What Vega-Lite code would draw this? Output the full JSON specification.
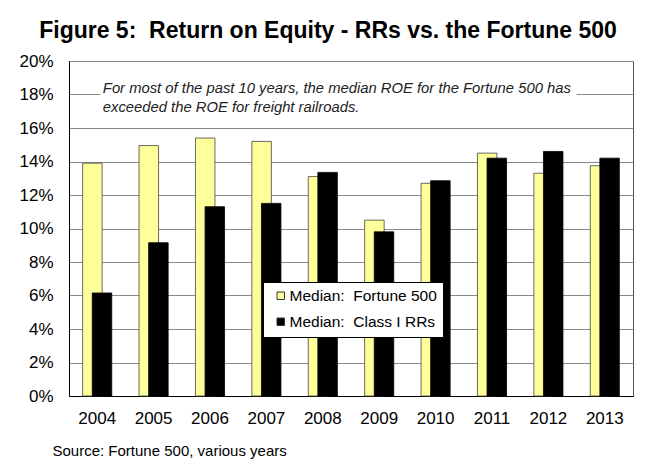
{
  "$schema": "https://vega.github.io/schema/vega-lite/v6.json",
  "width": 564,
  "height": 335,
  "autosize": {"type": "none"},
  "padding": {"left": 69, "top": 61, "right": 13, "bottom": 70},
  "background": "white",
  "title": {
    "text": "Figure 5:\u00a0 Return on Equity - RRs vs. the Fortune 500",
    "fontSize": 23,
    "fontWeight": "bold",
    "font": "Liberation Sans",
    "color": "black",
    "anchor": "middle",
    "dx": -23,
    "offset": 9
  },
  "datasets": {
    "roe": [
      {"year": "2004", "series": "Median:\u00a0 Fortune 500", "value": 13.9},
      {"year": "2005", "series": "Median:\u00a0 Fortune 500", "value": 14.95},
      {"year": "2006", "series": "Median:\u00a0 Fortune 500", "value": 15.4},
      {"year": "2007", "series": "Median:\u00a0 Fortune 500", "value": 15.2},
      {"year": "2008", "series": "Median:\u00a0 Fortune 500", "value": 13.1},
      {"year": "2009", "series": "Median:\u00a0 Fortune 500", "value": 10.5},
      {"year": "2010", "series": "Median:\u00a0 Fortune 500", "value": 12.7},
      {"year": "2011", "series": "Median:\u00a0 Fortune 500", "value": 14.5},
      {"year": "2012", "series": "Median:\u00a0 Fortune 500", "value": 13.3},
      {"year": "2013", "series": "Median:\u00a0 Fortune 500", "value": 13.75},
      {"year": "2004", "series": "Median:\u00a0 Class I RRs", "value": 6.15},
      {"year": "2005", "series": "Median:\u00a0 Class I RRs", "value": 9.15},
      {"year": "2006", "series": "Median:\u00a0 Class I RRs", "value": 11.3},
      {"year": "2007", "series": "Median:\u00a0 Class I RRs", "value": 11.5},
      {"year": "2008", "series": "Median:\u00a0 Class I RRs", "value": 13.35},
      {"year": "2009", "series": "Median:\u00a0 Class I RRs", "value": 9.8},
      {"year": "2010", "series": "Median:\u00a0 Class I RRs", "value": 12.85},
      {"year": "2011", "series": "Median:\u00a0 Class I RRs", "value": 14.2},
      {"year": "2012", "series": "Median:\u00a0 Class I RRs", "value": 14.6},
      {"year": "2013", "series": "Median:\u00a0 Class I RRs", "value": 14.2}
    ],
    "note": [
      {"note": "For most of the past 10 years, the median ROE for the Fortune 500 has\nexceeded the ROE for freight railroads."}
    ]
  },
  "config": {
    "font": "Liberation Sans",
    "view": {"stroke": "#555", "strokeWidth": 1},
    "axisX": {
      "domainColor": "black",
      "ticks": false,
      "grid": false,
      "labelAngle": 0,
      "labelFontSize": 17,
      "labelColor": "black",
      "labelPadding": 14,
      "titleFontSize": 15,
      "titleFontWeight": "normal",
      "titleColor": "black",
      "titleAnchor": "start",
      "titleAlign": "left",
      "titleX": -17,
      "titleY": 59,
      "titleBaseline": "alphabetic"
    },
    "axisY": {
      "domainColor": "black",
      "ticks": false,
      "grid": true,
      "gridColor": "#8a8a8a",
      "labelFontSize": 17,
      "labelColor": "black",
      "labelPadding": 16,
      "labelOverlap": false
    },
    "legend": {
      "orient": "none",
      "legendX": 194,
      "legendY": 221,
      "fillColor": "white",
      "strokeColor": "black",
      "padding": 6,
      "symbolType": "square",
      "symbolSize": 56,
      "symbolStrokeColor": "#333",
      "symbolStrokeWidth": 1,
      "symbolOffset": 4,
      "labelOffset": 1,
      "labelFontSize": 15.5,
      "labelColor": "black",
      "rowPadding": 9
    }
  },
  "layer": [
    {
      "data": {"name": "roe"},
      "transform": [{"filter": "datum.series === 'Median:\u00a0 Fortune 500'"}],
      "mark": {"type": "bar", "width": 19.5, "xOffset": -4.8, "stroke": "#444", "strokeWidth": 0.8},
      "encoding": {
        "x": {"field": "year", "type": "nominal", "scale": {"paddingInner": 0, "paddingOuter": 0}, "title": "Source: Fortune 500, various years"},
        "y": {"field": "value", "type": "quantitative", "scale": {"domain": [0, 20]}, "axis": {"values": [0, 2, 4, 6, 8, 10, 12, 14, 16, 18, 20], "labelExpr": "datum.value + '%'"}, "title": null},
        "color": {"field": "series", "type": "nominal", "scale": {"domain": ["Median:\u00a0 Fortune 500", "Median:\u00a0 Class I RRs"], "range": ["#FFFF99", "#000000"]}, "legend": {"title": null}}
      }
    },
    {
      "data": {"name": "roe"},
      "transform": [{"filter": "datum.series === 'Median:\u00a0 Class I RRs'"}],
      "mark": {"type": "bar", "width": 19.5, "xOffset": 4.8, "stroke": "#000", "strokeWidth": 0.8},
      "encoding": {
        "x": {"field": "year", "type": "nominal", "title": "Source: Fortune 500, various years"},
        "y": {"field": "value", "type": "quantitative", "axis": {"values": [0, 2, 4, 6, 8, 10, 12, 14, 16, 18, 20], "labelExpr": "datum.value + '%'"}, "title": null},
        "color": {"field": "series", "type": "nominal", "legend": {"title": null}}
      }
    },
    {
      "data": {"name": "note"},
      "mark": {"type": "rect", "fill": "white"},
      "encoding": {
        "x": {"datum": "2004", "type": "nominal", "bandPosition": 0.55, "title": "Source: Fortune 500, various years"},
        "x2": {"datum": "2013", "bandPosition": 0},
        "y": {"datum": 16.9, "type": "quantitative", "axis": {"values": [0, 2, 4, 6, 8, 10, 12, 14, 16, 18, 20], "labelExpr": "datum.value + '%'"}, "title": null},
        "y2": {"datum": 19.3}
      }
    },
    {
      "data": {"name": "note"},
      "mark": {"type": "text", "align": "left", "baseline": "alphabetic", "fontStyle": "italic", "fontSize": 14.8, "color": "#222", "lineBreak": "\n", "lineHeight": 19, "dy": -2},
      "encoding": {
        "x": {"datum": "2004", "type": "nominal", "bandPosition": 0.6, "title": "Source: Fortune 500, various years"},
        "y": {"datum": 18, "type": "quantitative", "axis": {"values": [0, 2, 4, 6, 8, 10, 12, 14, 16, 18, 20], "labelExpr": "datum.value + '%'"}, "title": null},
        "text": {"field": "note"}
      }
    }
  ]
}
